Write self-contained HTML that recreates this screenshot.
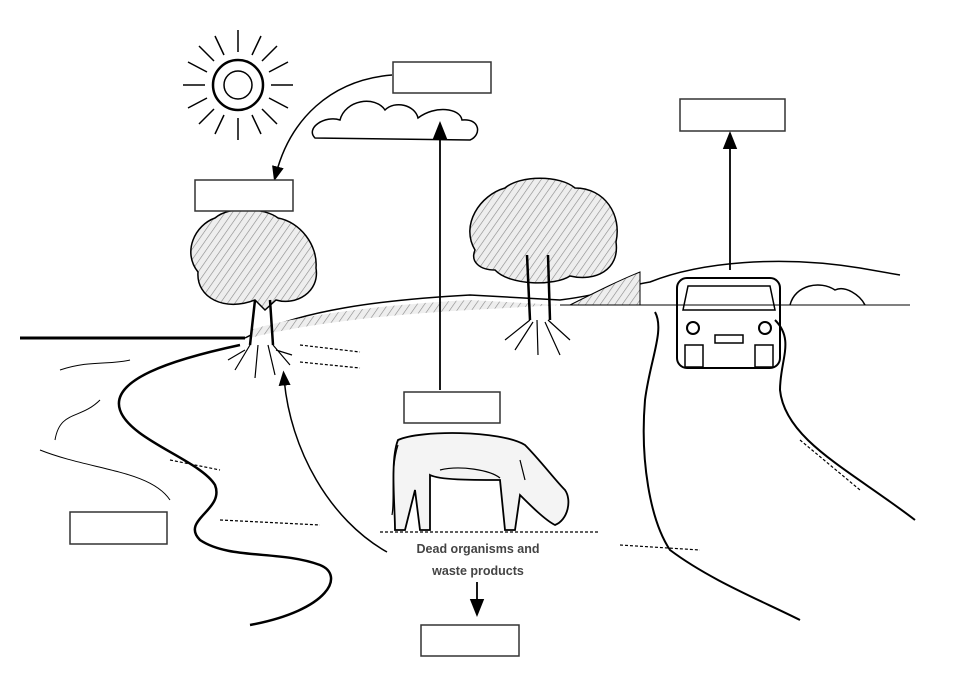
<!DOCTYPE html>
<html><head><meta charset="utf-8"><style>
html,body{margin:0;padding:0;background:#fff;width:967px;height:684px;overflow:hidden}
svg{display:block}
</style></head><body>
<svg width="967" height="684" viewBox="0 0 967 684" xmlns="http://www.w3.org/2000/svg">
<defs>
<marker id="ah" markerWidth="10" markerHeight="10" refX="5" refY="5" orient="auto"><path d="M0,1 L10,5 L0,9 z" fill="#000"/></marker>
<pattern id="hatch" width="6" height="6" patternUnits="userSpaceOnUse" patternTransform="rotate(35)"><rect width="6" height="6" fill="#eee"/><line x1="0" y1="0" x2="0" y2="6" stroke="#888" stroke-width="1.2"/></pattern>
</defs>
<g fill="none" stroke="#000" stroke-width="2">
<!-- sun -->
<circle cx="238" cy="85" r="25" stroke-width="2.5"/>
<circle cx="238" cy="85" r="14" stroke-width="1.5"/>
<g stroke-width="1.5">
<path d="M238,30 L238,52 M238,118 L238,140 M183,85 L205,85 M271,85 L293,85 M199,46 L214,61 M262,109 L277,124 M199,124 L214,109 M262,61 L277,46 M215,36 L224,55 M252,115 L261,134 M261,36 L252,55 M224,115 L215,134 M188,62 L207,72 M269,98 L288,108 M188,108 L207,98 M269,72 L288,62"/>
</g>
<!-- cloud -->
<path d="M315,138 C305,128 325,115 340,120 C345,100 375,95 385,110 C395,100 415,105 418,118 C435,105 460,108 462,120 C480,118 482,135 470,140 Z" stroke-width="1.5"/>
<!-- horizon / hills -->
<path d="M245,338 C300,310 380,300 470,295 L560,300 C600,295 630,285 650,282 C700,262 780,255 860,268 L900,275" stroke-width="1.5"/>
<path d="M20,338 L245,338" stroke-width="3"/>
<path d="M250,330 C300,315 380,305 470,300 L560,305 L470,310 C380,315 300,325 250,338 Z" fill="url(#hatch)" stroke="none"/>
<path d="M560,305 L910,305" stroke-width="1"/>
<path d="M570,305 C600,290 620,280 640,272 L640,305 Z" fill="url(#hatch)" stroke-width="1"/>
<path d="M790,305 C795,285 820,280 835,290 C845,285 860,295 865,305" stroke-width="1.5"/>
<!-- left tree -->
<path d="M198,272 C182,252 195,225 215,218 C230,205 265,208 278,218 C300,222 318,245 316,268 C320,292 296,306 276,300 L265,310 L255,300 C225,312 196,298 198,272 Z" fill="url(#hatch)" stroke-width="1.5"/>
<path d="M255,300 L250,345 M270,300 L273,345" stroke-width="2.5"/>
<path d="M250,345 L235,370 M258,345 L255,378 M268,345 L275,375 M273,345 L290,365 M245,350 L228,360 M276,350 L292,355" stroke-width="1.2"/>
<!-- middle tree -->
<path d="M475,250 C460,225 480,195 505,188 C520,175 560,175 575,188 C605,188 622,215 616,242 C620,270 595,282 570,276 C555,286 510,286 495,270 C480,270 470,262 475,250 Z" fill="url(#hatch)" stroke-width="1.5"/>
<path d="M527,255 L530,320 M548,255 L550,320" stroke-width="2.5"/>
<path d="M530,320 L505,340 M537,320 L538,355 M548,320 L570,340 M533,322 L515,350 M545,322 L560,355" stroke-width="1.2"/>
<!-- river -->
<path d="M240,345 C170,360 110,380 120,410 C130,440 200,460 215,485 C225,510 180,520 200,540 C230,560 280,550 320,565 C345,575 330,610 250,625" stroke-width="2.5"/>
<path d="M100,400 C80,420 60,410 55,440 M40,450 C90,470 150,470 170,500 M60,370 C90,360 110,365 130,360" stroke-width="1"/>
<!-- road -->
<path d="M655,312 C665,330 650,360 645,400 C640,460 650,520 670,550 C710,580 760,600 800,620" stroke-width="2"/>
<path d="M775,320 C795,340 780,360 780,390 C785,440 850,470 915,520" stroke-width="2"/>
<!-- car -->
<rect x="677" y="278" width="103" height="90" rx="10" stroke-width="2"/>
<path d="M688,286 L770,286 L775,310 L683,310 Z" stroke-width="1.5"/>
<rect x="685" y="345" width="18" height="22" stroke-width="1.5"/>
<rect x="755" y="345" width="18" height="22" stroke-width="1.5"/>
<circle cx="693" cy="328" r="6"/><circle cx="765" cy="328" r="6"/>
<rect x="715" y="335" width="28" height="8" stroke-width="1.5"/>
<!-- cow -->
<path d="M398,440 C420,430 500,430 525,445 C540,460 555,480 565,490 C572,500 568,520 555,525 C545,520 530,505 520,495 L515,530 L505,530 L500,480 C470,480 440,480 430,475 L430,530 L420,530 L415,490 L405,530 L395,530 C395,505 390,460 398,440 Z" fill="#f4f4f4" stroke-width="1.8"/>
<path d="M398,445 C390,470 395,500 392,515 M440,470 C460,465 490,470 500,478 M520,460 L525,480" stroke-width="1.2"/>
<!-- grass -->
<path d="M380,532 L600,532 M170,460 L220,470 M220,520 L320,525 M620,545 L700,550 M800,440 L860,490 M300,345 L360,352 M300,362 L360,368" stroke-width="1.2" stroke-dasharray="3,2"/>
<!-- arrows -->
<path d="M392,75 C330,80 290,120 276,174" stroke-width="1.5" marker-end="url(#ah)"/>
<path d="M440,390 L440,130" stroke-width="1.8" marker-end="url(#ah)"/>
<path d="M730,270 L730,140" stroke-width="1.8" marker-end="url(#ah)"/>
<path d="M387,552 C330,520 290,450 284,378" stroke-width="1.5" marker-end="url(#ah)"/>
<path d="M477,582 L477,608" stroke-width="1.8" marker-end="url(#ah)"/>
</g>
<!-- boxes -->
<g fill="#fff" stroke="#333" stroke-width="1.5">
<rect x="393" y="62" width="98" height="31"/>
<rect x="680" y="99" width="105" height="32"/>
<rect x="195" y="180" width="98" height="31"/>
<rect x="404" y="392" width="96" height="31"/>
<rect x="70" y="512" width="97" height="32"/>
<rect x="421" y="625" width="98" height="31"/>
</g>
<rect x="395" y="538" width="165" height="42" fill="#fff"/>
<g font-family="Liberation Sans, sans-serif" font-size="12.5" font-weight="bold" fill="#444" text-anchor="middle">
<text x="478" y="553">Dead organisms and</text>
<text x="478" y="575">waste products</text>
</g>
</svg>
</body></html>
